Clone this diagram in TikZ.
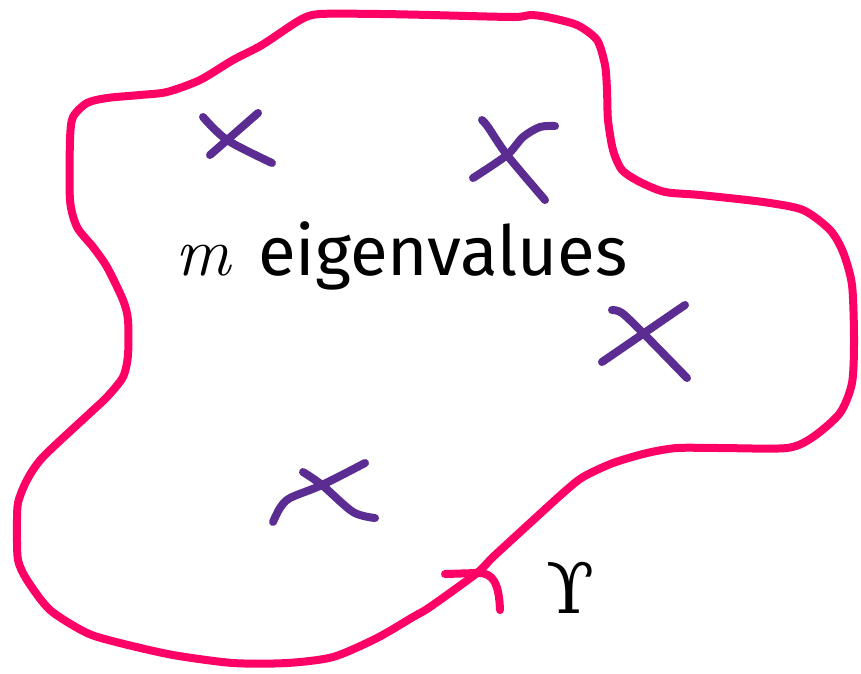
\documentclass[tikz,border=0pt]{standalone}
\usepackage{fontspec}
\newfontfamily\capfont{Fira Sans}
\newfontfamily\greekfont{DejaVu Serif}
\usepackage{tikz}
\usetikzlibrary{positioning}
\definecolor{contour}{HTML}{FF0066}
\definecolor{eigmark}{HTML}{5B2C91}
\tikzset{
  pen/.style    ={draw=contour,line width=8pt,line cap=round,line join=round},
  cross/.style  ={draw=eigmark,line width=8pt,line cap=round,line join=round},
  caption/.style={inner sep=0pt,font=\fontsize{69}{80}\selectfont\capfont}
}

\begin{document}
\begin{tikzpicture}[x=1pt,y=-1pt]
        \useasboundingbox (0,0) rectangle (861,673);
        % the contour
        \draw[pen] plot[smooth cycle,tension=0.45] coordinates {
          (320,14) (380,14) (430,15) (513,17) (530,15) (547,17) (577,25)
          (597,40) (605,65) (607,90) (608,120) (613,150) (622,170) (640,182)
          (665,192) (700,195) (763,202) (803,210) (830,230) (843,252)
          (852,285) (854,340) (852,383) (840,413) (813,437) (787,448)
          (720,448) (677,448) (647,453) (613,463) (583,477) (563,493)
          (530,523) (493,557) (477,573) (430,607) (413,617) (377,638)
          (333,657) (287,663) (233,663) (173,655) (120,643) (87,633)
          (50,610) (27,580) (18,560) (17,530) (18,503) (27,480) (43,457)
          (90,413) (107,397) (123,377) (128,355) (128,320) (123,300)
          (107,267) (93,247) (77,227) (70,200) (70,140) (73,117) (87,103)
          (107,98) (140,95) (167,92) (200,80) (233,60) (262,45)
          (300,20)};
        \coordinate (tip) at (477,573);
        \draw[pen] (445,574) -- (tip) .. controls (494,572) and (499,585) .. (500,610);
        % eigenvalues
        \draw[cross] plot[smooth] coordinates {(203,117) (227,140) (272,163)};
        \draw[cross] (258,113) -- (210,155);
        \draw[cross] plot[smooth] coordinates {(482,120) (488,127) (507,155) (545,200)};
        \draw[cross] plot[smooth] coordinates {(555,126) (540,127) (523,137) (507,155) (473,178)};
        \draw[cross] plot[smooth] coordinates {(612,310) (622,313) (643,333) (687,378)};
        \draw[cross] (685,305) -- (602,362);
        \draw[cross] plot[smooth] coordinates {(303,472) (322,485) (353,512) (375,518)};
        \draw[cross] plot[smooth] coordinates {(365,463) (322,485) (290,498) (280,508) (273,522)};
        % labels
        \node[caption,anchor=base west] (mvar) at (175,275) {\rmfamily\itshape m};
        \node[caption,anchor=base west] (eig) at (258,275) {eigenvalues};
        \node[inner sep=0pt,anchor=base west,font=\fontsize{70}{80}\selectfont\greekfont] (gamma) at (546,613) {ϒ};
\end{tikzpicture}
\end{document}
